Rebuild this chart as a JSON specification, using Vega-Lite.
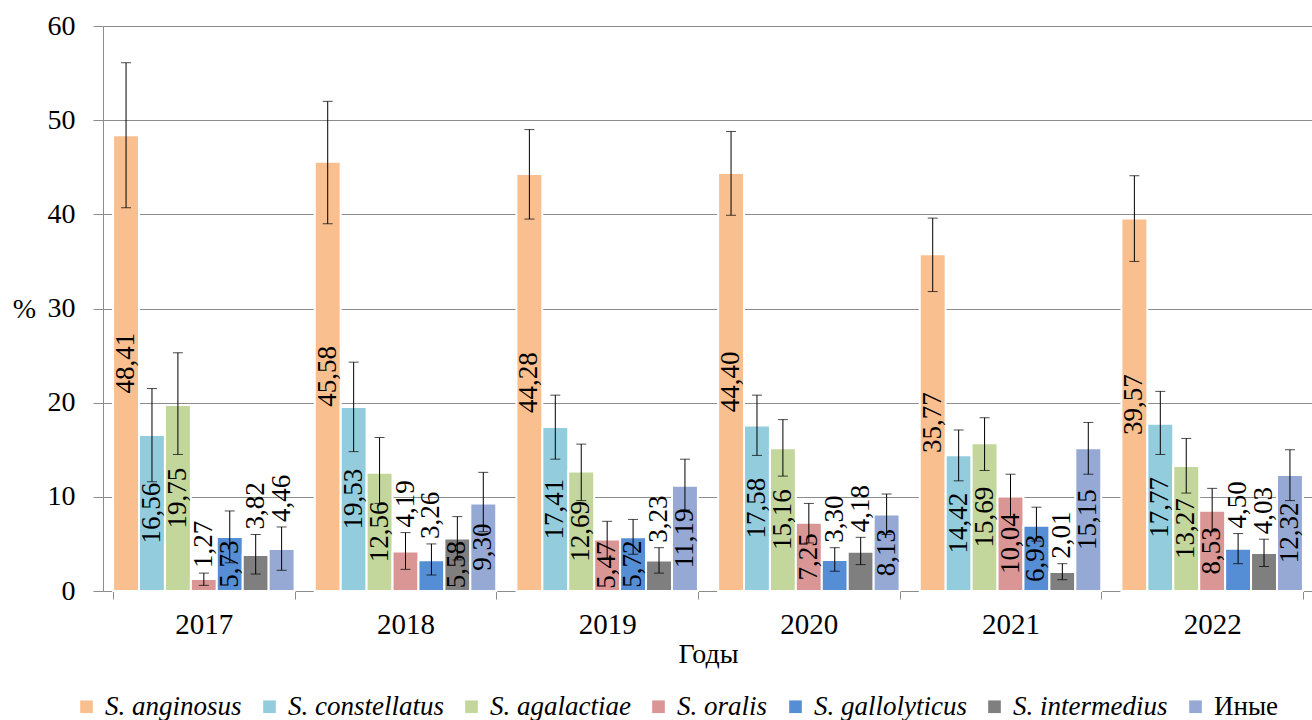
{
  "$schema": "https://vega.github.io/schema/vega-lite/v6.json",
  "width": 1210,
  "height": 565,
  "autosize": {"type": "none"},
  "padding": {"left": 103, "top": 26, "right": 0, "bottom": 129},
  "background": "white",
  "config": {
    "font": "'Liberation Serif', 'Times New Roman', serif",
    "view": {"stroke": null},
    "text": {"font": "'Liberation Serif', 'Times New Roman', serif"},
    "axis": {
      "labelFont": "'Liberation Serif', 'Times New Roman', serif",
      "titleFont": "'Liberation Serif', 'Times New Roman', serif",
      "labelColor": "#000000",
      "titleColor": "#000000",
      "titleFontWeight": "normal",
      "domainColor": "#8c8c8c",
      "tickColor": "#8c8c8c",
      "gridColor": "#8c8c8c"
    },
    "legend": {
      "labelFont": "'Liberation Serif', 'Times New Roman', serif"
    }
  },
  "data": {
    "values": [
      {"year": "2017", "species": "S. anginosus", "v": 48.41, "lo": 40.7, "hi": 56.1},
      {"year": "2017", "species": "S. constellatus", "v": 16.56, "lo": 11.6, "hi": 21.5},
      {"year": "2017", "species": "S. agalactiae", "v": 19.75, "lo": 14.5, "hi": 25.3},
      {"year": "2017", "species": "S. oralis", "v": 1.27, "lo": 0.6, "hi": 1.9},
      {"year": "2017", "species": "S. gallolyticus", "v": 5.73, "lo": 3.0, "hi": 8.5},
      {"year": "2017", "species": "S. intermedius", "v": 3.82, "lo": 1.8, "hi": 6.0},
      {"year": "2017", "species": "Иные", "v": 4.46, "lo": 2.2, "hi": 6.8},
      {"year": "2018", "species": "S. anginosus", "v": 45.58, "lo": 39.0, "hi": 52.0},
      {"year": "2018", "species": "S. constellatus", "v": 19.53, "lo": 14.8, "hi": 24.3},
      {"year": "2018", "species": "S. agalactiae", "v": 12.56, "lo": 9.3, "hi": 16.3},
      {"year": "2018", "species": "S. oralis", "v": 4.19, "lo": 2.3, "hi": 6.2},
      {"year": "2018", "species": "S. gallolyticus", "v": 3.26, "lo": 1.7, "hi": 5.0},
      {"year": "2018", "species": "S. intermedius", "v": 5.58, "lo": 3.3, "hi": 7.9},
      {"year": "2018", "species": "Иные", "v": 9.30, "lo": 6.3, "hi": 12.6},
      {"year": "2019", "species": "S. anginosus", "v": 44.28, "lo": 39.5, "hi": 49.0},
      {"year": "2019", "species": "S. constellatus", "v": 17.41, "lo": 14.0, "hi": 20.8},
      {"year": "2019", "species": "S. agalactiae", "v": 12.69, "lo": 9.6, "hi": 15.6},
      {"year": "2019", "species": "S. oralis", "v": 5.47, "lo": 3.5, "hi": 7.4},
      {"year": "2019", "species": "S. gallolyticus", "v": 5.72, "lo": 3.9, "hi": 7.6},
      {"year": "2019", "species": "S. intermedius", "v": 3.23, "lo": 1.9, "hi": 4.6},
      {"year": "2019", "species": "Иные", "v": 11.19, "lo": 8.6, "hi": 14.0},
      {"year": "2020", "species": "S. anginosus", "v": 44.40, "lo": 39.9, "hi": 48.8},
      {"year": "2020", "species": "S. constellatus", "v": 17.58, "lo": 14.4, "hi": 20.8},
      {"year": "2020", "species": "S. agalactiae", "v": 15.16, "lo": 12.2, "hi": 18.2},
      {"year": "2020", "species": "S. oralis", "v": 7.25, "lo": 5.1, "hi": 9.3},
      {"year": "2020", "species": "S. gallolyticus", "v": 3.30, "lo": 2.1, "hi": 4.6},
      {"year": "2020", "species": "S. intermedius", "v": 4.18, "lo": 2.8, "hi": 5.7},
      {"year": "2020", "species": "Иные", "v": 8.13, "lo": 6.0, "hi": 10.3},
      {"year": "2021", "species": "S. anginosus", "v": 35.77, "lo": 31.8, "hi": 39.6},
      {"year": "2021", "species": "S. constellatus", "v": 14.42, "lo": 11.7, "hi": 17.1},
      {"year": "2021", "species": "S. agalactiae", "v": 15.69, "lo": 12.8, "hi": 18.4},
      {"year": "2021", "species": "S. oralis", "v": 10.04, "lo": 7.8, "hi": 12.4},
      {"year": "2021", "species": "S. gallolyticus", "v": 6.93, "lo": 5.3, "hi": 8.9},
      {"year": "2021", "species": "S. intermedius", "v": 2.01, "lo": 1.2, "hi": 2.9},
      {"year": "2021", "species": "Иные", "v": 15.15, "lo": 12.4, "hi": 17.9},
      {"year": "2022", "species": "S. anginosus", "v": 39.57, "lo": 35.0, "hi": 44.1},
      {"year": "2022", "species": "S. constellatus", "v": 17.77, "lo": 14.5, "hi": 21.2},
      {"year": "2022", "species": "S. agalactiae", "v": 13.27, "lo": 10.4, "hi": 16.2},
      {"year": "2022", "species": "S. oralis", "v": 8.53, "lo": 6.3, "hi": 10.9},
      {"year": "2022", "species": "S. gallolyticus", "v": 4.50, "lo": 2.9, "hi": 6.1},
      {"year": "2022", "species": "S. intermedius", "v": 4.03, "lo": 2.6, "hi": 5.5},
      {"year": "2022", "species": "Иные", "v": 12.32, "lo": 9.6, "hi": 15.0}
    ]
  },
  "transform": [
    {"calculate": "replace(format(datum.v, '.2f'), '.', ',')", "as": "label"},
    {"calculate": "datum.v / 2", "as": "mid"}
  ],
  "encoding": {
    "x": {
      "field": "year",
      "type": "nominal",
      "scale": {"paddingInner": 0.1, "paddingOuter": 0.05},
      "axis": {
        "title": "Годы",
        "labelAngle": 0,
        "labelFontSize": 29,
        "titleFontSize": 28,
        "tickBand": "extent",
        "tickSize": 8,
        "labelPadding": 11,
        "titlePadding": 1,
        "domainWidth": 1
      }
    },
    "xOffset": {
      "field": "species",
      "type": "nominal",
      "sort": ["S. anginosus", "S. constellatus", "S. agalactiae", "S. oralis", "S. gallolyticus", "S. intermedius", "Иные"],
      "scale": {"paddingInner": 0, "paddingOuter": 0}
    }
  },
  "layer": [
    {
      "mark": {"type": "bar", "stroke": "white", "strokeWidth": 2},
      "encoding": {
        "y": {
          "field": "v",
          "type": "quantitative",
          "scale": {"domain": [0, 60]},
          "axis": {
            "title": "%",
            "titleAngle": 0,
            "titleX": -79,
            "titleY": 283,
            "titleAlign": "center",
            "titleBaseline": "middle",
            "titleFontSize": 28,
            "labelFontSize": 28,
            "values": [0, 10, 20, 30, 40, 50, 60],
            "tickSize": 10,
            "labelPadding": 18,
            "grid": true
          }
        },
        "color": {
          "field": "species",
          "type": "nominal",
          "scale": {
            "domain": ["S. anginosus", "S. constellatus", "S. agalactiae", "S. oralis", "S. gallolyticus", "S. intermedius", "Иные"],
            "range": ["#F9BF8F", "#93CDDD", "#C3D69B", "#D99694", "#558ED5", "#7F7F7F", "#95A9D4"]
          },
          "legend": {
            "title": null,
            "orient": "none",
            "direction": "horizontal",
            "columns": 7,
            "legendX": -30,
            "legendY": 667,
            "symbolType": "square",
            "symbolSize": 160,
            "symbolStrokeWidth": 0,
            "labelFont": "'Liberation Serif', 'Times New Roman', serif",
            "labelFontSize": 27,
            "labelFontStyle": {"expr": "datum.label === 'Иные' ? 'normal' : 'italic'"},
            "labelColor": "#000000",
            "labelOffset": 5,
            "columnPadding": 14,
            "labelLimit": 400
          }
        }
      }
    },
    {
      "mark": {"type": "rule", "color": "#000000", "strokeWidth": 1},
      "encoding": {
        "y": {"field": "lo", "type": "quantitative"},
        "y2": {"field": "hi"}
      }
    },
    {
      "mark": {"type": "tick", "color": "#000000", "thickness": 1, "size": 10, "orient": "horizontal"},
      "encoding": {"y": {"field": "lo", "type": "quantitative"}}
    },
    {
      "mark": {"type": "tick", "color": "#000000", "thickness": 1, "size": 10, "orient": "horizontal"},
      "encoding": {"y": {"field": "hi", "type": "quantitative"}}
    },
    {
      "transform": [{"filter": "datum.v >= 5"}],
      "mark": {"type": "text", "font": "'Liberation Serif', 'Times New Roman', serif", "angle": 270, "align": "center", "baseline": "middle", "fontSize": 27, "color": "#000000", "clip": true},
      "encoding": {
        "y": {"field": "mid", "type": "quantitative"},
        "text": {"field": "label"}
      }
    },
    {
      "transform": [{"filter": "datum.v < 5"}],
      "mark": {"type": "text", "font": "'Liberation Serif', 'Times New Roman', serif", "angle": 270, "align": "left", "baseline": "middle", "fontSize": 27, "color": "#000000", "dx": 5},
      "encoding": {
        "y": {"field": "hi", "type": "quantitative"},
        "text": {"field": "label"}
      }
    }
  ]
}
